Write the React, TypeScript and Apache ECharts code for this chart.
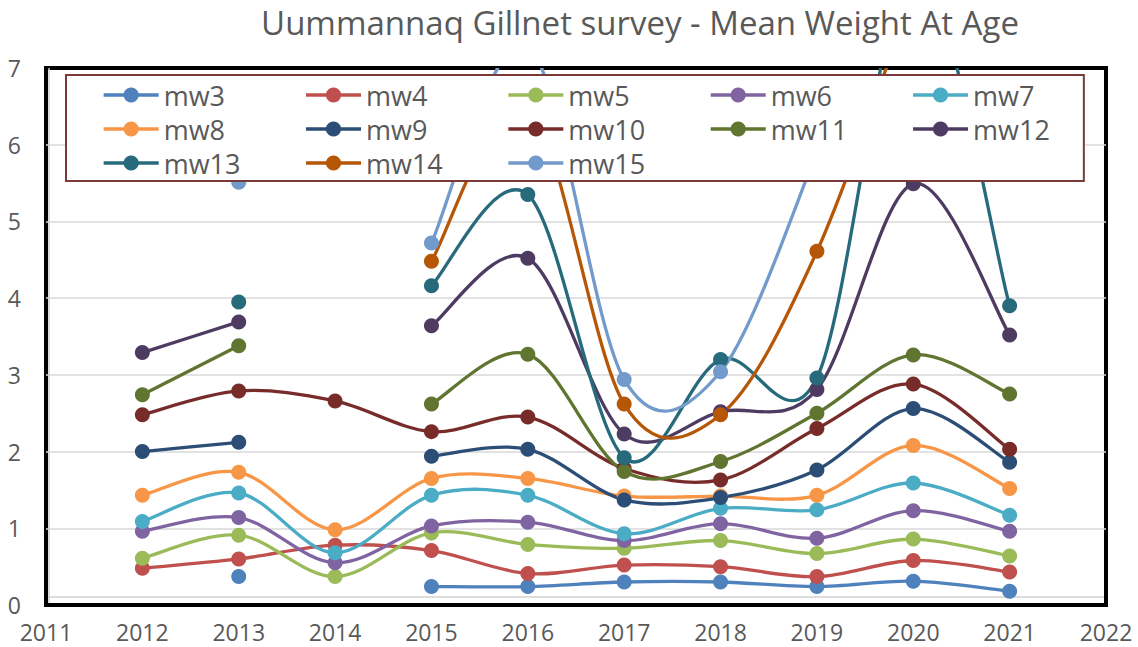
import React, { useEffect, useRef } from "react";
import * as echarts from "echarts";

const years = [2012, 2013, 2014, 2015, 2016, 2017, 2018, 2019, 2020, 2021];
const seriesNames = ["mw3", "mw4", "mw5", "mw6", "mw7", "mw8", "mw9", "mw10", "mw11", "mw12", "mw13", "mw14", "mw15"];

const mw3 = [null, 0.37, null, 0.24, 0.24, 0.3, 0.3, 0.24, 0.31, 0.18];
const mw4 = [0.48, 0.6, 0.78, 0.71, 0.41, 0.52, 0.5, 0.37, 0.58, 0.43];
const mw5 = [0.61, 0.91, 0.37, 0.94, 0.79, 0.74, 0.84, 0.67, 0.86, 0.64];
const mw6 = [0.96, 1.14, 0.55, 1.03, 1.08, 0.84, 1.06, 0.87, 1.23, 0.96];
const mw7 = [1.09, 1.46, 0.68, 1.43, 1.43, 0.93, 1.26, 1.24, 1.59, 1.17];
const mw8 = [1.43, 1.73, 0.98, 1.65, 1.65, 1.42, 1.42, 1.43, 2.08, 1.52];
const mw9 = [2.0, 2.12, null, 1.94, 2.03, 1.37, 1.4, 1.76, 2.56, 1.86];
const mw10 = [2.48, 2.79, 2.66, 2.26, 2.45, 1.78, 1.63, 2.3, 2.88, 2.03];
const mw11 = [2.74, 3.38, null, 2.62, 3.27, 1.74, 1.87, 2.5, 3.26, 2.75];
const mw12 = [3.29, 3.69, null, 3.64, 4.52, 2.23, 2.52, 2.81, 5.49, 3.52];
const mw13 = [null, 3.95, null, 4.16, 5.35, 1.92, 3.2, 2.96, 8.3, 3.9];
const mw14 = [null, null, null, 4.48, 6.5, 2.62, 2.48, 4.61, 8.0, null];
const mw15 = [null, 5.51, null, 4.72, 7.3, 2.94, 3.04, 5.9, null, null];

const allValues = [mw3, mw4, mw5, mw6, mw7, mw8, mw9, mw10, mw11, mw12, mw13, mw14, mw15];

const colors = [
  "#4F81BD", "#C0504D", "#9BBB59", "#8064A2", "#4BACC6", "#F79646",
  "#2C4D75", "#772C2A", "#5F7530", "#4D3B62", "#276A7C", "#B65708", "#729ACA",
];

const yTicks = { min: 0, max: 7, interval: 1 };
const xTicks = { min: 2011, max: 2022, interval: 1 };

const FONT = "Open Sans";
const TEXT_COLOR = "#595959";
const LINE_W = 3.3;

// Build segment records [x0, y0, x1, y1, xPrev, yPrev, xNext, yNext] from the arrays
function segmentsOf(vals: (number | null)[]) {
  const segs: number[][] = [];
  for (let j = 0; j < vals.length - 1; j++) {
    const a = vals[j];
    const b = vals[j + 1];
    if (a == null || b == null) continue;
    const pv = j > 0 ? vals[j - 1] : null;
    const nv = j + 2 < vals.length ? vals[j + 2] : null;
    const xp = pv == null ? years[j] : years[j - 1];
    const yp = pv == null ? a : pv;
    const xn = nv == null ? years[j + 1] : years[j + 2];
    const yn = nv == null ? b : nv;
    segs.push([years[j], a, years[j + 1], b, xp, yp, xn, yn]);
  }
  return segs;
}

export default function App() {
  const ref = useRef<HTMLDivElement>(null);

  useEffect(() => {
    document.body.style.margin = "0";
    const chart = echarts.init(ref.current!, null, { renderer: "svg" });

    const series: any[] = [];
    seriesNames.forEach((name, i) => {
      const color = colors[i];
      series.push({
        name: name + " curve",
        type: "custom",
        clip: true,
        silent: true,
        data: segmentsOf(allValues[i]),
        encode: { x: [0, 2], y: [1, 3] },
        renderItem: (params: any, api: any) => {
          const p1 = api.coord([api.value(0), api.value(1)]);
          const p2 = api.coord([api.value(2), api.value(3)]);
          const p0 = api.coord([api.value(4), api.value(5)]);
          const p3 = api.coord([api.value(6), api.value(7)]);
          return {
            type: "bezierCurve",
            shape: {
              x1: p1[0],
              y1: p1[1],
              x2: p2[0],
              y2: p2[1],
              cpx1: p1[0] + (p2[0] - p0[0]) / 6,
              cpy1: p1[1] + (p2[1] - p0[1]) / 6,
              cpx2: p2[0] - (p3[0] - p1[0]) / 6,
              cpy2: p2[1] - (p3[1] - p1[1]) / 6,
            },
            style: { stroke: color, lineWidth: LINE_W, fill: "none", lineCap: "round" },
          };
        },
      });
      series.push({
        name,
        type: "line",
        connectNulls: false,
        symbol: "circle",
        symbolSize: 15,
        showSymbol: true,
        clip: true,
        color,
        lineStyle: { width: LINE_W, color, opacity: 0 },
        itemStyle: { color },
        data: years.map((y, j) => [y, allValues[i][j] == null ? "-" : allValues[i][j]]),
      });
    });

    const narrow = new Set(["mw7", "mw12"]);

    chart.setOption({
      animation: false,
      color: colors,
      title: {
        text: "Uummannaq Gillnet survey - Mean Weight At Age",
        left: 640,
        top: 6,
        padding: 0,
        textAlign: "center",
        textStyle: { fontFamily: FONT, fontSize: 33, fontWeight: "normal", color: TEXT_COLOR },
      },
      grid: {
        left: 46,
        right: 32,
        top: 68,
        bottom: 42,
        show: true,
        borderColor: "#000",
        borderWidth: 4,
        backgroundColor: "transparent",
      },
      legend: {
        left: 66,
        top: 75,
        width: 960,
        orient: "horizontal",
        padding: [5, 34, 3, 36],
        itemGap: 4,
        itemWidth: 55,
        itemHeight: 19,
        backgroundColor: "#fff",
        borderColor: "#7B3A3A",
        borderWidth: 2,
        lineStyle: { width: LINE_W, opacity: 1 },
        textStyle: {
          fontFamily: FONT,
          fontSize: 27,
          color: TEXT_COLOR,
          width: 136.7,
          lineHeight: 30,
        },
        data: seriesNames.map((n) =>
          narrow.has(n) ? { name: n, textStyle: { width: 64 } } : { name: n }
        ),
        z: 10,
      },
      xAxis: {
        type: "value",
        min: xTicks.min,
        max: xTicks.max,
        interval: xTicks.interval,
        axisLine: { show: false },
        axisTick: { show: false },
        splitLine: { show: false },
        axisLabel: {
          fontFamily: FONT,
          fontSize: 23,
          color: TEXT_COLOR,
          margin: 15,
          formatter: (v: number) => String(v),
        },
      },
      yAxis: {
        type: "value",
        min: yTicks.min,
        max: yTicks.max,
        interval: yTicks.interval,
        axisLine: { show: false },
        axisTick: { show: false },
        splitLine: {
          show: true,
          showMinLine: false,
          showMaxLine: false,
          lineStyle: { color: "#D9D9D9", width: 1.5 },
        },
        axisLabel: {
          fontFamily: FONT,
          fontSize: 23,
          color: TEXT_COLOR,
          margin: 25,
        },
      },
      graphic: [
        {
          type: "line",
          z: 1,
          shape: { x1: 49, y1: 68, x2: 49, y2: 603 },
          style: { stroke: "#D0D0D0", lineWidth: 1.5 },
        },
        {
          type: "line",
          z: 1,
          shape: { x1: 48, y1: 597, x2: 1104, y2: 597 },
          style: { stroke: "#D0D0D0", lineWidth: 1.5 },
        },
      ],
      series,
    });

    return () => chart.dispose();
  }, []);

  return <div ref={ref} style={{ width: 1138, height: 647 }} />;
}
